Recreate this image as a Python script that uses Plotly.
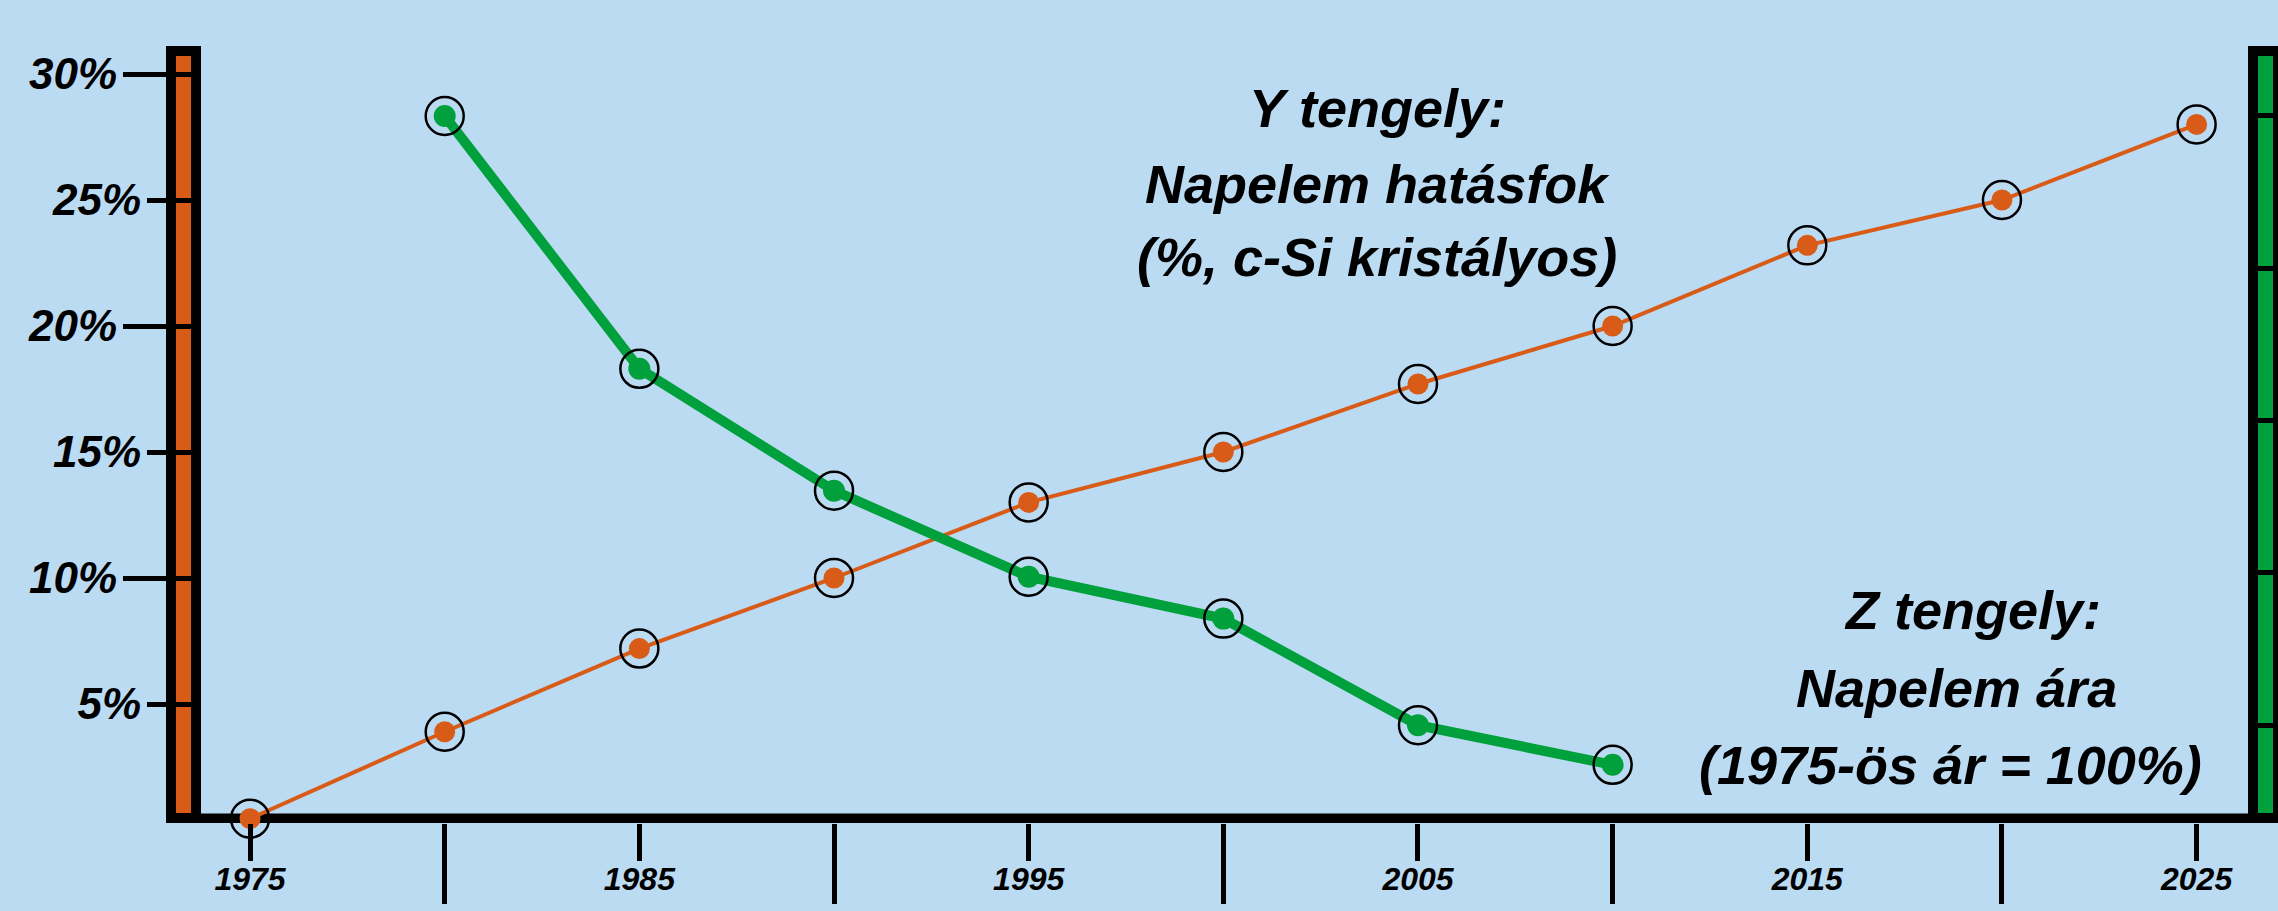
import plotly.graph_objects as go

# ---------------- data ----------------
eff_years = [1975, 1980, 1985, 1990, 1995, 2000, 2005, 2010, 2015, 2020, 2025]
efficiency = [0.45, 3.9, 7.2, 10.0, 13.0, 15.0, 17.7, 20.0, 23.2, 25.0, 28.0]   # %, c-Si

price_years = [1980, 1985, 1990, 1995, 2000, 2005, 2010]
price = [100.0, 66.8, 50.8, 39.5, 34.0, 20.0, 14.8]   # % of 1975 price (right axis, unlabeled)

x_label_years = [1975, 1985, 1995, 2005, 2015, 2025]
x_long_ticks = [1980, 1990, 2000, 2010, 2020]
y_major = [10, 20, 30]
y_minor = [5, 15, 25]
z_ticks = [20, 40, 60, 80, 100]

text_y = ["Y tengely:", "Napelem hatásfok", "(%, c-Si kristályos)"]
text_z = ["Z tengely:", "Napelem ára", "(1975-ös ár = 100%)"]

# ---------------- style ----------------
W, H = 2278, 911
ML, MR, MT, MB = 201, 30, 46, 88
PW, PH = W - ML - MR, H - MT - MB
BG = "#BBDBF3"
ORANGE = "#D95B18"
GREEN = "#00A03C"

def px(xp):
    return (xp - ML) / PW

def py(yp):
    return (H - MB - yp) / PH

fnt_tick_y = dict(family="Liberation Sans, Arial", size=44, color="black", weight="bold", style="italic")
fnt_tick_x = dict(family="Liberation Sans, Arial", size=32, color="black", weight="bold", style="italic")
fnt_ann = dict(family="Liberation Sans, Arial", size=54, color="black", weight="bold", style="italic")

fig = go.Figure()

fig.add_trace(go.Scatter(
    x=eff_years, y=efficiency, mode="lines+markers",
    line=dict(color=ORANGE, width=4),
    marker=dict(color=ORANGE, size=21),
    cliponaxis=False, yaxis="y", showlegend=False, hoverinfo="skip"))
fig.add_trace(go.Scatter(
    x=eff_years, y=efficiency, mode="markers",
    marker=dict(symbol="circle-open", size=38, color="black", line=dict(width=2.5)),
    cliponaxis=False, yaxis="y", showlegend=False, hoverinfo="skip"))
# carrier trace so that the second left axis (5/15/25 %) is drawn
fig.add_trace(go.Scatter(
    x=eff_years, y=efficiency, mode="markers", marker=dict(opacity=0),
    yaxis="y3", showlegend=False, hoverinfo="skip"))

fig.add_trace(go.Scatter(
    x=price_years, y=price, mode="lines+markers",
    line=dict(color=GREEN, width=10),
    marker=dict(color=GREEN, size=22),
    cliponaxis=False, yaxis="y2", showlegend=False, hoverinfo="skip"))
fig.add_trace(go.Scatter(
    x=price_years, y=price, mode="markers",
    marker=dict(symbol="circle-open", size=38, color="black", line=dict(width=2.5)),
    cliponaxis=False, yaxis="y2", showlegend=False, hoverinfo="skip"))

y_range = [0.278, 31.111]
z_range = [7.16, 109.19]

shapes = [
    # x axis line
    dict(type="line", xref="paper", yref="paper", layer="below",
         x0=px(166), x1=px(2250), y0=py(818.3), y1=py(818.3),
         line=dict(color="black", width=9.5)),
    dict(type="rect", xref="paper", yref="paper", layer="below",
         x0=px(171), x1=px(196), y0=py(818), y1=py(51),
         fillcolor=ORANGE, line=dict(color="black", width=10)),
    dict(type="rect", xref="paper", yref="paper", layer="below",
         x0=px(2253), x1=px(2278), y0=py(818), y1=py(51),
         fillcolor=GREEN, line=dict(color="black", width=10)),
]

annotations = []
for t, xp, yp in zip(text_y, [1377, 1377, 1377], [108, 184, 257]):
    annotations.append(dict(text=t, x=px(xp), y=py(yp), xref="paper", yref="paper",
                            showarrow=False, xanchor="center", yanchor="middle", font=fnt_ann))
for t, xp, yp in zip(text_z, [1972, 1956, 1950], [610, 688, 765]):
    annotations.append(dict(text=t, x=px(xp), y=py(yp), xref="paper", yref="paper",
                            showarrow=False, xanchor="center", yanchor="middle", font=fnt_ann))

fig.update_layout(
    width=W, height=H, autosize=False,
    paper_bgcolor=BG, plot_bgcolor=BG,
    margin=dict(l=ML, r=MR, t=MT, b=MB, pad=0, autoexpand=False),
    showlegend=False,
    shapes=shapes, annotations=annotations,
    xaxis=dict(
        range=[1973.74, 2026.32], showgrid=False, zeroline=False, automargin=False,
        showline=False,
        tickmode="array", tickvals=x_label_years, ticktext=[str(v) for v in x_label_years],
        ticks="outside", ticklen=37, tickwidth=4.5, tickcolor="black",
        tickfont=fnt_tick_x, ticklabelstandoff=-9,
        minor=dict(tickmode="array", tickvals=x_long_ticks, ticks="outside",
                   ticklen=80, tickwidth=4.5, tickcolor="black", showgrid=False),
    ),
    yaxis=dict(
        range=y_range, showgrid=False, zeroline=False, showline=False, automargin=False,
        tickmode="array", tickvals=y_major, ticktext=[f"{v}%" for v in y_major],
        ticks="outside", ticklen=77, tickwidth=5, tickcolor="black",
        tickfont=fnt_tick_y, ticklabelstandoff=-3,
    ),
    yaxis3=dict(
        range=y_range, overlaying="y", side="left", anchor="x", automargin=False,
        showgrid=False, zeroline=False, showline=False,
        tickmode="array", tickvals=y_minor, ticktext=[f"{v}%" for v in y_minor],
        ticks="outside", ticklen=53, tickwidth=5, tickcolor="black",
        tickfont=fnt_tick_y, ticklabelstandoff=-3,
    ),
    yaxis2=dict(
        range=z_range, overlaying="y", side="right", anchor="x", automargin=False,
        showgrid=False, zeroline=False, showline=False,
        tickmode="array", tickvals=z_ticks, showticklabels=False,
        ticks="outside", ticklen=30, tickwidth=5, tickcolor="black",
    ),
)

fig.write_html(
    "out.html",
    config={"displayModeBar": False},
    post_script="document.body.style.margin='0';document.body.style.overflow='hidden';document.body.style.background='#BBDBF3';",
)
